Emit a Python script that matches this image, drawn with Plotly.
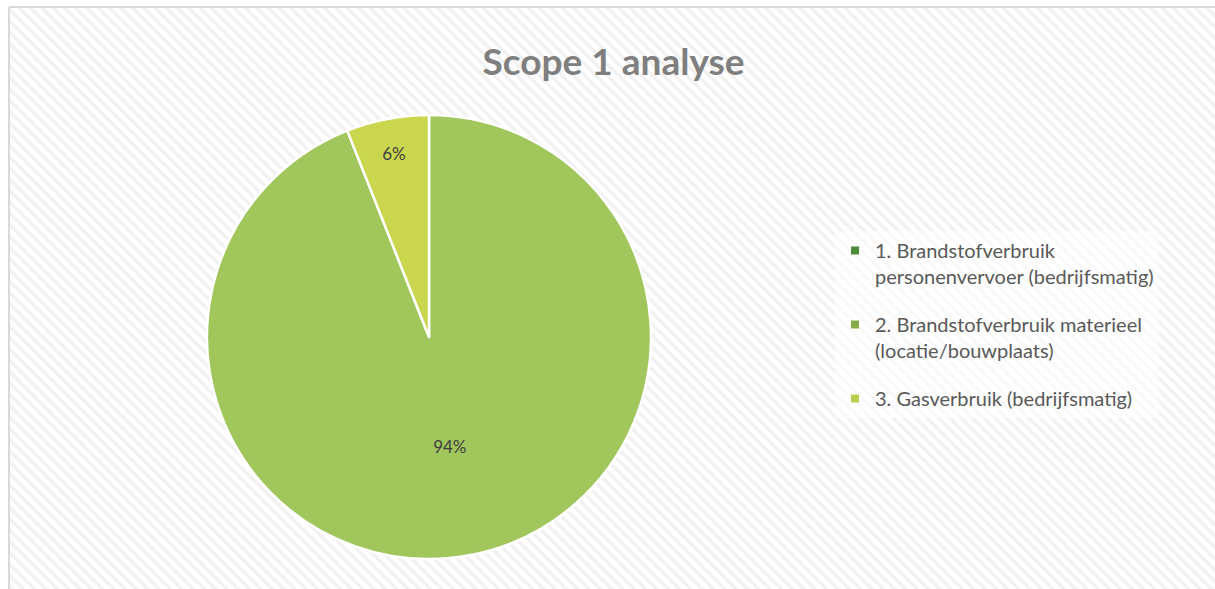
import plotly.graph_objects as go

categories = [
    "1. Brandstofverbruik<br>personenvervoer (bedrijfsmatig)",
    "2. Brandstofverbruik materieel<br>(locatie/bouwplaats)",
    "3. Gasverbruik (bedrijfsmatig)",
]
values = [0, 94, 6]
colors = ["#4f8a35", "#a0c65c", "#cad74e"]
legend_colors = ["#4e8b3a", "#86ad45", "#bccd52"]

W, H = 1215, 589
FONT = "Lato, Open Sans, sans-serif"
fig = go.Figure()

# hatched background panel
fig.add_trace(go.Scatter(
    x=[9 / W, 1.01, 1.01, 9 / W, 9 / W], y=[1 - 7 / H, 1 - 7 / H, -0.01, -0.01, 1 - 7 / H],
    mode="lines", fill="toself", line=dict(color="#d9d9d9", width=2),
    fillcolor="white",
    fillpattern=dict(shape="\\", fgcolor="#e3e3e3", bgcolor="white", size=8, solidity=0.4),
    hoverinfo="skip", showlegend=False,
))

cx, cy, r = 429, 337, 222
fig.add_trace(go.Pie(
    labels=categories, values=values, sort=False, direction="clockwise", rotation=0,
    marker=dict(colors=colors, line=dict(color="white", width=2.5)),
    textinfo="percent", textposition="inside", insidetextorientation="horizontal",
    textfont=dict(family=FONT, size=17, color="#404040"),
    domain=dict(x=[(cx - r) / W, (cx + r) / W], y=[(H - cy - r) / H, (H - cy + r) / H]),
    showlegend=False, hoverinfo="label+percent",
))

# legend entries (one group per category so the gap between entries can be set)
for i, (lab, col) in enumerate(zip(categories, legend_colors)):
    fig.add_trace(go.Scatter(
        x=[None], y=[None], mode="markers", name=lab,
        marker=dict(symbol="square", size=8, color=col),
        legendgroup=f"g{i}", showlegend=True,
    ))

fig.update_layout(
    width=W, height=H, margin=dict(l=0, r=0, t=0, b=0),
    paper_bgcolor="white", plot_bgcolor="rgba(0,0,0,0)",
    xaxis=dict(visible=False, range=[0, 1], domain=[0, 1], fixedrange=True),
    yaxis=dict(visible=False, range=[0, 1], domain=[0, 1], fixedrange=True),
    title=dict(text="<b>Scope 1 analyse</b>", x=0.505, xanchor="center", y=1 - 62 / H, yanchor="middle",
               font=dict(family=FONT, size=37, color="#7f7f7f")),
    legend=dict(x=835 / W, y=1 - 231 / H, xanchor="left", yanchor="top",
                bgcolor="rgba(255,255,255,0.6)", borderwidth=0, valign="top",
                font=dict(family=FONT, size=20, color="#595959"),
                itemwidth=30, tracegroupgap=19),
    showlegend=True,
)

fig.write_html("out.html", config={"displayModeBar": False},
               post_script="document.body.style.margin='0';")
